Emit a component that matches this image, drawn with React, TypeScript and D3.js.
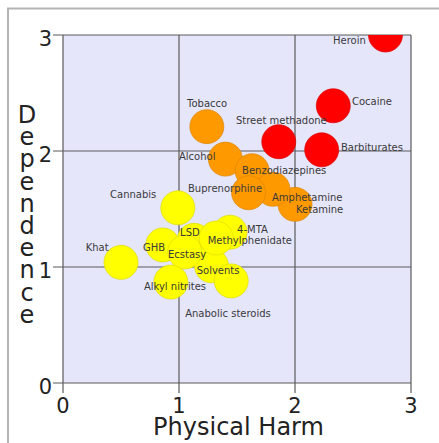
import * as d3 from 'd3';

// drug names, mean physical harm, mean dependence
const drugs = [
	'Heroin', 'Cocaine', 'Barbiturates', 'Street methadone', 'Alcohol',
	'Ketamine', 'Benzodiazepines', 'Amphetamine', 'Tobacco', 'Buprenorphine',
	'Cannabis', 'Solvents', '4-MTA', 'LSD', 'Methylphenidate',
	'Anabolic steroids', 'GHB', 'Ecstasy', 'Alkyl nitrites', 'Khat',
];
const physicalHarm = [
	2.78, 2.33, 2.23, 1.86, 1.4, 2.0, 1.63, 1.81, 1.24, 1.6,
	0.99, 1.28, 1.44, 1.13, 1.32, 1.45, 0.86, 1.05, 0.93, 0.5,
];
const dependence = [
	3.0, 2.39, 2.01, 2.08, 1.93, 1.54, 1.83, 1.67, 2.21, 1.64,
	1.51, 1.01, 1.3, 1.23, 1.25, 0.88, 1.19, 1.13, 0.87, 1.04,
];
// harm class: 0 red, 1 orange, 2 yellow
const harmClass = [0, 0, 0, 0, 1, 1, 1, 1, 1, 1, 2, 2, 2, 2, 2, 2, 2, 2, 2, 2];
const axisTicks = [0, 1, 2, 3];

// label placement relative to circle centre (px)
const labelOffset: [number, number][] = [
	[-52.5, 9], [18.7, -1], [19.3, 1.2], [-42.8, -17.7], [-46.4, 0.9],
	[1, 8.6], [-10, 3.3], [-1, 11.7], [-19.8, -19.6], [-60.6, -0.8],
	[-67.8, -9.8], [-14.8, 8.2], [7, 0.8], [-14, -4.3], [-8.4, 6],
	[-46, 35.8], [-19.8, 6], [-16.8, 5.8], [-27, 8], [-35.3, -11.4],
];

const classColor = ['#ff0000', '#ff9900', '#ffff00'];

export default function App() {
	const width = 439;
	const height = 443;
	const plot = { left: 63, right: 411, top: 35, bottom: 383 };

	const x = d3.scaleLinear().domain([0, 3]).range([plot.left, plot.right]);
	const y = d3.scaleLinear().domain([0, 3]).range([plot.bottom, plot.top]);
	const r = 17;
	const font = 'DejaVu Sans, sans-serif';
	const yLetters = 'Dependence'.split('');

	return (
		<div style={{ position: 'absolute', left: 0, top: 0 }}>
			<svg width={width} height={height} style={{ display: 'block' }}>
				<defs>
					<clipPath id="plotClip">
						<rect x={plot.left} y={plot.top} width={plot.right - plot.left} height={plot.bottom - plot.top} />
					</clipPath>
				</defs>
				<rect x={0} y={0} width={width} height={height} fill="#fff" />
				<rect x={8} y={8.5} width={width + 10} height={height + 10} fill="#fff" stroke="#b4b4b4" strokeWidth={2} />

				<rect x={plot.left} y={plot.top} width={plot.right - plot.left} height={plot.bottom - plot.top} fill="#e6e6fa" />

				{/* grid + ticks */}
				{axisTicks.map((t) => (
					<g key={'gx' + t}>
						<line x1={x(t)} x2={x(t)} y1={plot.top} y2={plot.bottom + 10} stroke="#5a5a5a" strokeWidth={1.2} />
						<line x1={plot.left - 10} x2={plot.right} y1={y(t)} y2={y(t)} stroke="#5a5a5a" strokeWidth={1.2} />
					</g>
				))}

				<g clipPath="url(#plotClip)">
					{drugs.map((d, i) => {
						const c = classColor[harmClass[i]];
						return (
							<circle
								key={d}
								cx={x(physicalHarm[i])}
								cy={y(dependence[i])}
								r={r}
								fill={c}
								stroke={d3.color(c)!.darker(0.4).formatHex()}
								strokeWidth={0.7}
							/>
						);
					})}
				</g>

				{drugs.map((d, i) => (
					<text
						key={'l' + d}
						x={x(physicalHarm[i]) + labelOffset[i][0]}
						y={y(dependence[i]) + labelOffset[i][1]}
						fontFamily={font}
						fontSize={10}
						fill="#3a3a3a"
					>
						{d}
					</text>
				))}

				{axisTicks.map((t) => (
					<text key={'ty' + t} x={plot.left - 11} y={y(t) + 10.5} textAnchor="end" fontFamily={font} fontSize={21} fill="#222">
						{t}
					</text>
				))}
				{axisTicks.map((t) => (
					<text key={'tx' + t} x={x(t)} y={413} textAnchor="middle" fontFamily={font} fontSize={21} fill="#222">
						{t}
					</text>
				))}

				<text x={238.5} y={435} textAnchor="middle" fontFamily={font} fontSize={24} fill="#222">
					Physical Harm
				</text>
				<text fontFamily={font} fontSize={24} fill="#222" textAnchor="middle">
					{yLetters.map((ch, i) => (
						<tspan key={i} x={27} y={123 + i * 22.2}>
							{ch}
						</tspan>
					))}
				</text>
			</svg>
		</div>
	);
}
